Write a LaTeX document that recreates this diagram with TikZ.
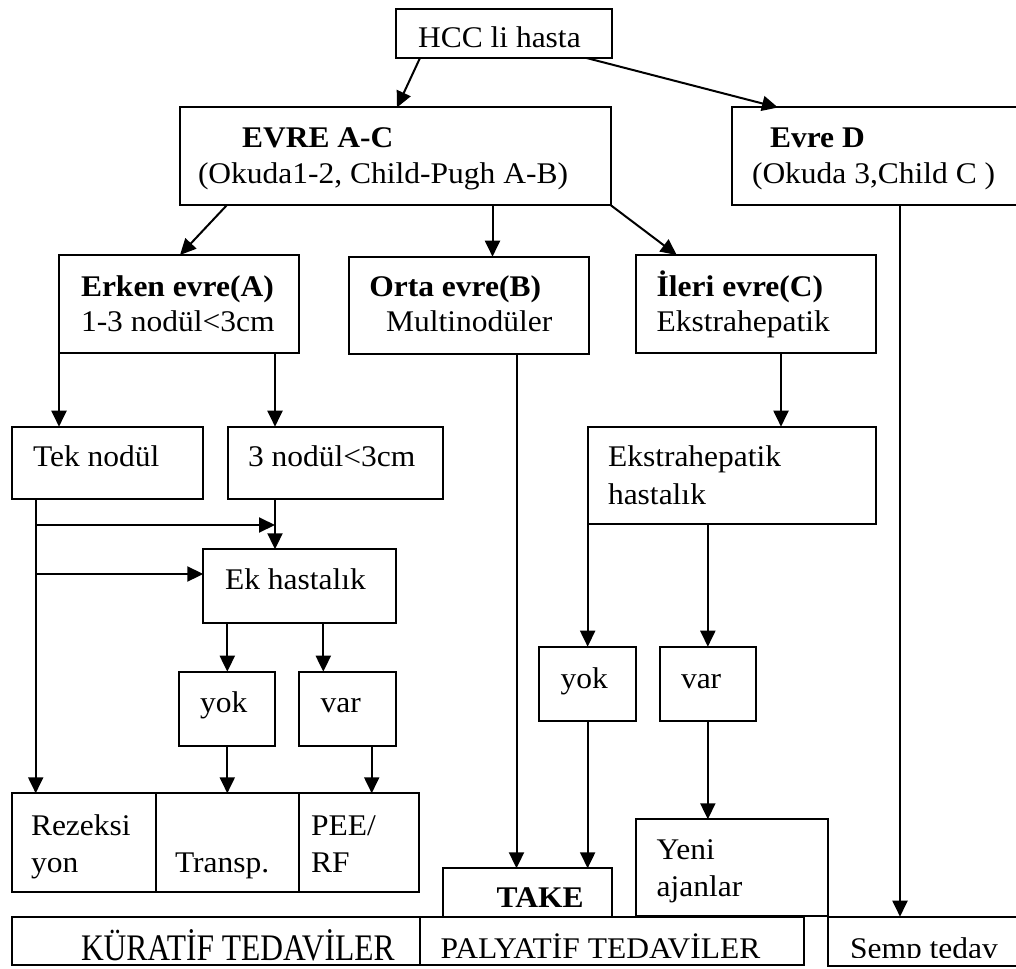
\documentclass[tikz,border=0pt]{standalone}
\usepackage{fontspec}
\setmainfont{Liberation Serif}[FakeStretch=1.05]
\usetikzlibrary{arrows.meta}
\tikzset{box/.style={draw, line width=2pt, anchor=north west, inner sep=0pt, outer sep=0pt}}
\tikzset{txt/.style={anchor=base west, inner sep=0pt, outer sep=0pt}}
\tikzset{arr/.style={line width=2pt, -{Triangle[length=16pt,width=15pt]}}}

\begin{document}
\begin{tikzpicture}[x=1pt, y=-1pt, font=\fontsize{30}{36}\selectfont]
  \useasboundingbox (0,0) rectangle (1016,968);
  \clip (0,0) rectangle (1016,968);

  \node[box, minimum width=216pt, minimum height=49pt] (hcc) at (396,9) {};
  \node[box, minimum width=431pt, minimum height=97.5pt] (evreac) at (179.5,107.5) {};
  \node[box, minimum width=300pt, minimum height=97.5pt] (evred) at (732,107.5) {};
  \node[box, minimum width=240pt, minimum height=97.7pt] (erken) at (59,255) {};
  \node[box, minimum width=240pt, minimum height=97.3pt] (orta) at (349,256.7) {};
  \node[box, minimum width=240.3pt, minimum height=97.7pt] (ileri) at (635.7,255) {};
  \node[box, minimum width=191.3pt, minimum height=72.3pt] (tek) at (11.7,426.7) {};
  \node[box, minimum width=215.3pt, minimum height=72.3pt] (uc) at (227.7,426.7) {};
  \node[box, minimum width=288pt, minimum height=97.6pt] (ekstra) at (587.7,426.7) {};
  \node[box, minimum width=192.4pt, minimum height=73.4pt] (ek) at (203.3,549.3) {};
  \node[box, minimum width=96pt, minimum height=74pt] (yok1) at (179.3,671.7) {};
  \node[box, minimum width=96.4pt, minimum height=74pt] (var1) at (299.3,671.7) {};
  \node[box, minimum width=96.7pt, minimum height=74pt] (yok2) at (539.3,646.7) {};
  \node[box, minimum width=95.7pt, minimum height=74pt] (var2) at (660,646.7) {};
  \node[box, minimum width=143.8pt, minimum height=98.4pt] (rez) at (11.7,793.3) {};
  \node[box, minimum width=143.9pt, minimum height=98.4pt] (tra) at (155.5,793.3) {};
  \node[box, minimum width=119.6pt, minimum height=98.4pt] (pee) at (299.4,793.3) {};
  \node[box, minimum width=168.3pt, minimum height=49pt] (take) at (443.3,868.3) {};
  \node[box, minimum width=191.6pt, minimum height=96.4pt] (yeni) at (636,819.3) {};
  \node[box, minimum width=408.3pt, minimum height=48.6pt] (kur) at (11.7,916.7) {};
  \node[box, minimum width=384pt, minimum height=48.6pt] (pal) at (420,916.7) {};
  \node[box, minimum width=200pt, minimum height=49.3pt] (semp) at (828.3,916.7) {};

  % texts
  \node[txt] (hcc-t) at (418,48) {HCC li hasta};
  \node[txt] (evreac-a) at (242,148) {\textbf{EVRE A-C}};
  \node[txt] (evreac-b) at (198,184) {(Okuda1-2, Child-Pugh A-B)};
  \node[txt] (evred-a) at (770,148) {\textbf{Evre D}};
  \node[txt] (evred-b) at (752,184) {(Okuda 3,Child C )};
  \node[txt] (erken-a) at (81,296.7) {\textbf{Erken evre(A)}};
  \node[txt] (erken-b) at (81,331.7) {1-3 nodül<3cm};
  \node[txt] (orta-a) at (369.3,296.7) {\textbf{Orta evre(B)}};
  \node[txt] (orta-b) at (386,331.7) {Multinodüler};
  \node[txt] (ileri-a) at (656.7,296.7) {\textbf{İleri evre(C)}};
  \node[txt] (ileri-b) at (656.7,331.7) {Ekstrahepatik};
  \node[txt] (tek-t) at (33,466.7) {Tek nodül};
  \node[txt] (uc-t) at (248,466.7) {3 nodül<3cm};
  \node[txt] (ekstra-a) at (608,466.7) {Ekstrahepatik};
  \node[txt] (ekstra-b) at (608,504) {hastalık};
  \node[txt] (ek-t) at (225,589) {Ek hastalık};
  \node[txt] (yok1-t) at (200,712) {yok};
  \node[txt] (var1-t) at (320.7,712) {var};
  \node[txt] (yok2-t) at (560.7,688) {yok};
  \node[txt] (var2-t) at (681,688) {var};
  \node[txt] (rez-a) at (31,835) {Rezeksi};
  \node[txt] (rez-b) at (31,872) {yon};
  \node[txt] (tra-t) at (175,872) {Transp.};
  \node[txt] (pee-a) at (311,835) {PEE/};
  \node[txt] (pee-b) at (311,872) {RF};
  \node[txt] (take-t) at (496.7,907) {\textbf{TAKE}};
  \node[txt] (yeni-a) at (656.7,859.3) {Yeni};
  \node[txt] (yeni-b) at (656.7,896.7) {ajanlar};
  \node[txt] (kur-t) at (81,960) {\scalebox{1}[1.25]{KÜRATİF TEDAVİLER}};
  \begin{scope}
    \clip (420,917) rectangle (1016,957.5);
    \node[txt] (pal-t) at (440.7,958) {PALYATİF TEDAVİLER};
    \node[txt] (semp-t) at (850,958) {Semp tedav};
  \end{scope}

  % connectors
  \coordinate (tekx) at ([xshift=24pt]tek.south west);
  \coordinate (ucx) at ([xshift=47.3pt]uc.south west);
  \coordinate (ortax) at ([xshift=167.5pt]orta.south west);
  \coordinate (ilerix) at ([xshift=145.3pt]ileri.south west);
  \coordinate (evredx) at ([xshift=168pt]evred.south west);
  \coordinate (varx) at ([xshift=24pt]var1.north west);
  \coordinate (peex) at ([xshift=72.4pt]var1.south west);
  \coordinate (ha) at (35.7,525);
  \coordinate (hb) at (35.7,574);

  \draw[arr] ([xshift=24pt]hcc.south west) -- ([xshift=217.5pt]evreac.north west);
  \draw[arr] ([xshift=-25.5pt]hcc.south east) -- ([xshift=46pt]evred.north west);
  \draw[arr] ([xshift=47.5pt]evreac.south west) -- ([xshift=121pt]erken.north west);
  \draw[arr] ([xshift=313pt]evreac.south west) -- ([xshift=143.5pt]orta.north west);
  \draw[arr] (evreac.south east) -- ([xshift=41pt]ileri.north west);
  \draw[arr] (evredx) -- (evredx |- semp.north);

  \draw[arr] (erken.south west) -- (erken.south west |- tek.north);
  \draw[arr] (erken.south -| ucx) -- (ucx |- uc.north);
  \draw[arr] (tekx) -- (tekx |- rez.north);
  \draw[arr] (ha) -- (ha -| ucx);
  \draw[arr] (hb) -- (hb -| ek.west);
  \draw[arr] (ucx) -- (ucx |- ek.north);
  \draw[arr] (yok1.north |- ek.south) -- (yok1.north);
  \draw[arr] (varx |- ek.south) -- (varx);
  \draw[arr] (yok1.south) -- (yok1.south |- tra.north);
  \draw[arr] (peex) -- (peex |- pee.north);

  \draw[arr] (ortax) -- (ortax |- take.north);
  \draw[arr] (ilerix) -- (ilerix |- ekstra.north);
  \draw[arr] (yok2.north |- ekstra.south) -- (yok2.north);
  \draw[arr] (var2.north |- ekstra.south) -- (var2.north);
  \draw[arr] (yok2.south) -- (yok2.south |- take.north);
  \draw[arr] (var2.south) -- (var2.south |- yeni.north);
\end{tikzpicture}
\end{document}
